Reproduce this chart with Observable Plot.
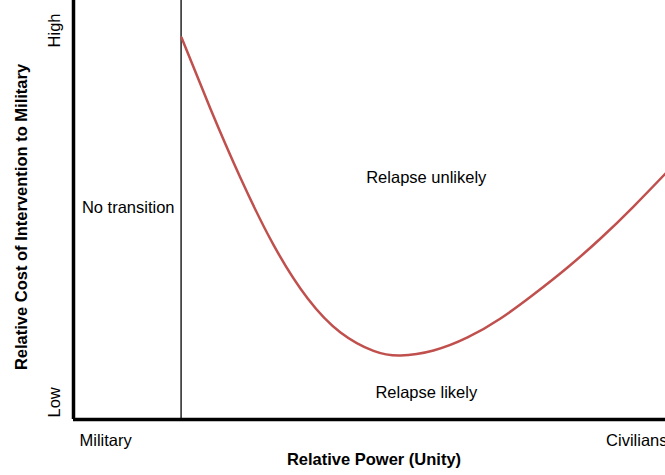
<!DOCTYPE html>
<html>
<head>
<meta charset="utf-8">
<script src="https://cdn.jsdelivr.net/npm/d3@7"></script>
<script src="https://cdn.jsdelivr.net/npm/@observablehq/plot@0.6"></script>
<style>
  html, body { margin: 0; padding: 0; background: white; overflow: hidden; }
</style>
</head>
<body>
<div id="chart"></div>
<script>
// Relative power (0 = Military, 100 = Civilians) and relative cost of intervention (0 = Low, 100 = High)
const powerX = [17.97, 22.8, 27.79, 33.28, 38.94, 44.43, 49.92, 54.41, 59.9, 65.56, 71.05, 76.54, 82.2, 87.69, 93.18, 98.5, 100];
const costY  = [93.86, 76.3, 59.34, 42.9, 29.78, 21.38, 16.86, 15.72, 16.95, 20.15, 24.82, 30.71, 37.35, 44.47, 52.33, 60.44, 62.78];

// Threshold of transition
const transitionX = [17.9];

// Tick labels
const xTickValues = [0, 100];
const xTickLabels = ["Military", "Civilians"];
const yTickValues = [0, 100];
const yTickLabels = ["Low", "High"];

// Region annotations
const regionLabels = ["No transition", "Relapse unlikely", "Relapse likely"];
const regionX = [9.1, 58.7, 58.7];
const regionY = [52.1, 59.5, 6.5];

// Titles
const xTitle = "Relative Power (Unity)";
const yTitle = "Relative Cost of Intervention to Military";

const curve = powerX.map((x, i) => ({x, y: costY[i]}));
const regions = regionLabels.map((t, i) => ({t, x: regionX[i], y: regionY[i]}));

const chart = Plot.plot({
  width: 665,
  height: 475,
  marginLeft: 73,
  marginRight: 0,
  marginTop: 0,
  marginBottom: 56,
  style: {
    fontFamily: "'Liberation Sans', Arial, Helvetica, sans-serif",
    fontSize: "16.5px",
    background: "white",
    color: "black",
    overflow: "hidden"
  },
  x: {domain: [0, 100], range: [73, 674], axis: null},
  y: {domain: [0, 100], range: [419, 12], axis: null},
  marks: [
    Plot.ruleX(transitionX, {stroke: "black", strokeWidth: 1.3}),
    Plot.line(curve, {x: "x", y: "y", stroke: "#c0504d", strokeWidth: 2.5, curve: "natural"}),
    Plot.ruleX([0], {stroke: "black", strokeWidth: 3.5}),
    Plot.ruleY([0], {stroke: "black", strokeWidth: 3.5}),
    // x tick labels
    Plot.text([xTickLabels[0]], {x: [xTickValues[0]], text: d => d, frameAnchor: "bottom", textAnchor: "start", lineAnchor: "top", dx: 6, dy: 15}),
    Plot.text([xTickLabels[1]], {x: [xTickValues[1]], text: d => d, frameAnchor: "bottom", textAnchor: "end", lineAnchor: "top", dx: -7, dy: 15}),
    // y tick labels (rotated)
    Plot.text([yTickLabels[0]], {x: [0], y: [yTickValues[0]], text: d => d, rotate: -90, textAnchor: "start", dx: -18.5, dy: -2}),
    Plot.text([yTickLabels[1]], {x: [0], y: [yTickValues[1]], text: d => d, rotate: -90, textAnchor: "end", dx: -18.5, dy: 1}),
    // region labels
    Plot.text(regions, {x: "x", y: "y", text: "t"}),
    // axis titles
    Plot.text([xTitle], {frameAnchor: "bottom", text: d => d, fontWeight: "bold", textAnchor: "middle", lineAnchor: "middle", dx: 4.5, dy: 40}),
    Plot.text([yTitle], {frameAnchor: "left", text: d => d, rotate: -90, fontWeight: "bold", textAnchor: "middle", lineAnchor: "middle", dx: -52, dy: 7})
  ]
});

document.getElementById("chart").appendChild(chart);
</script>
</body>
</html>
